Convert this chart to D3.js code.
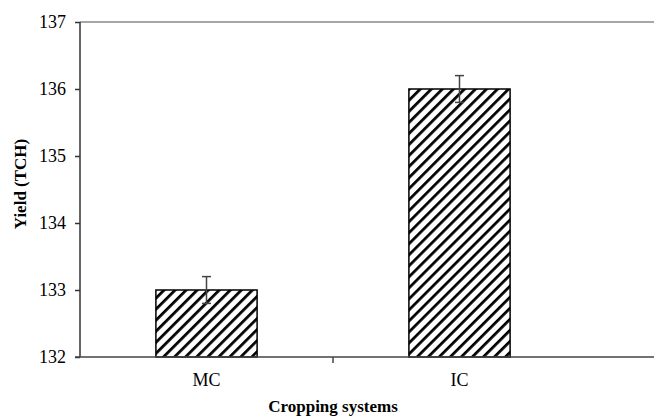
<!DOCTYPE html>
<html><head><meta charset="utf-8">
<script src="https://cdn.jsdelivr.net/npm/d3@7"></script>
<style>body{margin:0;background:#fff}</style>
</head><body>
<svg id="c" width="654" height="416"></svg>
<script>
const categories = ["MC", "IC"];
const values = [133.0, 136.0];
const errors = [0.2, 0.2];
const yTicks = [132, 133, 134, 135, 136, 137];

const svg = d3.select("#c");
const mLeft = 80, mRight = 586, mTop = 22, mBottom = 357;
const x = d3.scaleBand().domain(categories).range([mLeft, mRight]).paddingInner(0.6).paddingOuter(0.3);
const y = d3.scaleLinear().domain([132, 137]).range([mBottom, mTop]);
const font = "Liberation Serif";

const defs = svg.append("defs");
const pat = defs.append("pattern").attr("id", "hatch").attr("patternUnits", "userSpaceOnUse")
  .attr("width", 7.8).attr("height", 7.8).attr("patternTransform", "rotate(45)");
pat.append("rect").attr("width", 7.8).attr("height", 7.8).attr("fill", "#fff");
pat.append("line").attr("x1", 0).attr("y1", 0).attr("x2", 0).attr("y2", 7.8)
  .attr("stroke", "#000").attr("stroke-width", 5.5);

// top border
svg.append("line").attr("x1", mLeft).attr("x2", 654).attr("y1", y(137)).attr("y2", y(137))
  .attr("stroke", "#888").attr("stroke-width", 1.5);

// bars
svg.selectAll("rect.bar").data(categories).enter().append("rect").attr("class", "bar")
  .attr("x", d => x(d)).attr("width", x.bandwidth())
  .attr("y", (d, i) => y(values[i])).attr("height", (d, i) => y(132) - y(values[i]))
  .attr("fill", "url(#hatch)").attr("stroke", "#000").attr("stroke-width", 1.5);

// error bars
const eb = svg.selectAll("g.err").data(categories).enter().append("g")
  .attr("stroke", "#444").attr("stroke-width", 1.5);
eb.append("line").attr("x1", d => x(d) + x.bandwidth() / 2).attr("x2", d => x(d) + x.bandwidth() / 2)
  .attr("y1", (d, i) => y(values[i] - errors[i])).attr("y2", (d, i) => y(values[i] + errors[i]));
eb.append("line").attr("x1", d => x(d) + x.bandwidth() / 2 - 4.5).attr("x2", d => x(d) + x.bandwidth() / 2 + 4.5)
  .attr("y1", (d, i) => y(values[i] + errors[i])).attr("y2", (d, i) => y(values[i] + errors[i]));
eb.append("line").attr("x1", d => x(d) + x.bandwidth() / 2 - 4.5).attr("x2", d => x(d) + x.bandwidth() / 2 + 4.5)
  .attr("y1", (d, i) => y(values[i] - errors[i])).attr("y2", (d, i) => y(values[i] - errors[i]));

// y axis
const yAxis = svg.append("g").attr("transform", `translate(${mLeft},0)`)
  .call(d3.axisLeft(y).tickValues(yTicks).tickSize(5).tickPadding(9).tickFormat(d3.format("d")));
yAxis.select(".domain").attr("stroke", "#333").attr("stroke-width", 1.5).attr("d", `M0,${mTop}V${mBottom}`);
yAxis.selectAll(".tick line").attr("stroke", "#333").attr("stroke-width", 1.5);
yAxis.selectAll("text").attr("font-family", font).attr("font-size", 18).attr("fill", "#000");

// x axis
svg.append("line").attr("x1", mLeft - 5).attr("x2", 654).attr("y1", mBottom).attr("y2", mBottom)
  .attr("stroke", "#444").attr("stroke-width", 1.5);
const bounds = categories.slice(1).map(c => x(c) - x.step() * x.paddingInner() / 2);
svg.selectAll("line.xt").data(bounds).enter().append("line")
  .attr("x1", d => d).attr("x2", d => d).attr("y1", mBottom).attr("y2", mBottom + 6)
  .attr("stroke", "#444").attr("stroke-width", 1.5);
svg.selectAll("text.xl").data(categories).enter().append("text")
  .attr("x", d => x(d) + x.bandwidth() / 2).attr("y", 386).attr("text-anchor", "middle")
  .attr("font-family", font).attr("font-size", 18).attr("fill", "#000").text(d => d);

// axis titles
svg.append("text").attr("x", (mLeft + mRight) / 2).attr("y", 412).attr("text-anchor", "middle")
  .attr("font-family", font).attr("font-size", 17).attr("font-weight", "bold").attr("fill", "#000")
  .text("Cropping systems");
svg.append("text").attr("transform", `translate(26,184) rotate(-90)`)
  .attr("text-anchor", "middle").attr("font-family", font).attr("font-size", 17)
  .attr("font-weight", "bold").attr("fill", "#000").text("Yield (TCH)");
</script>
</body></html>
